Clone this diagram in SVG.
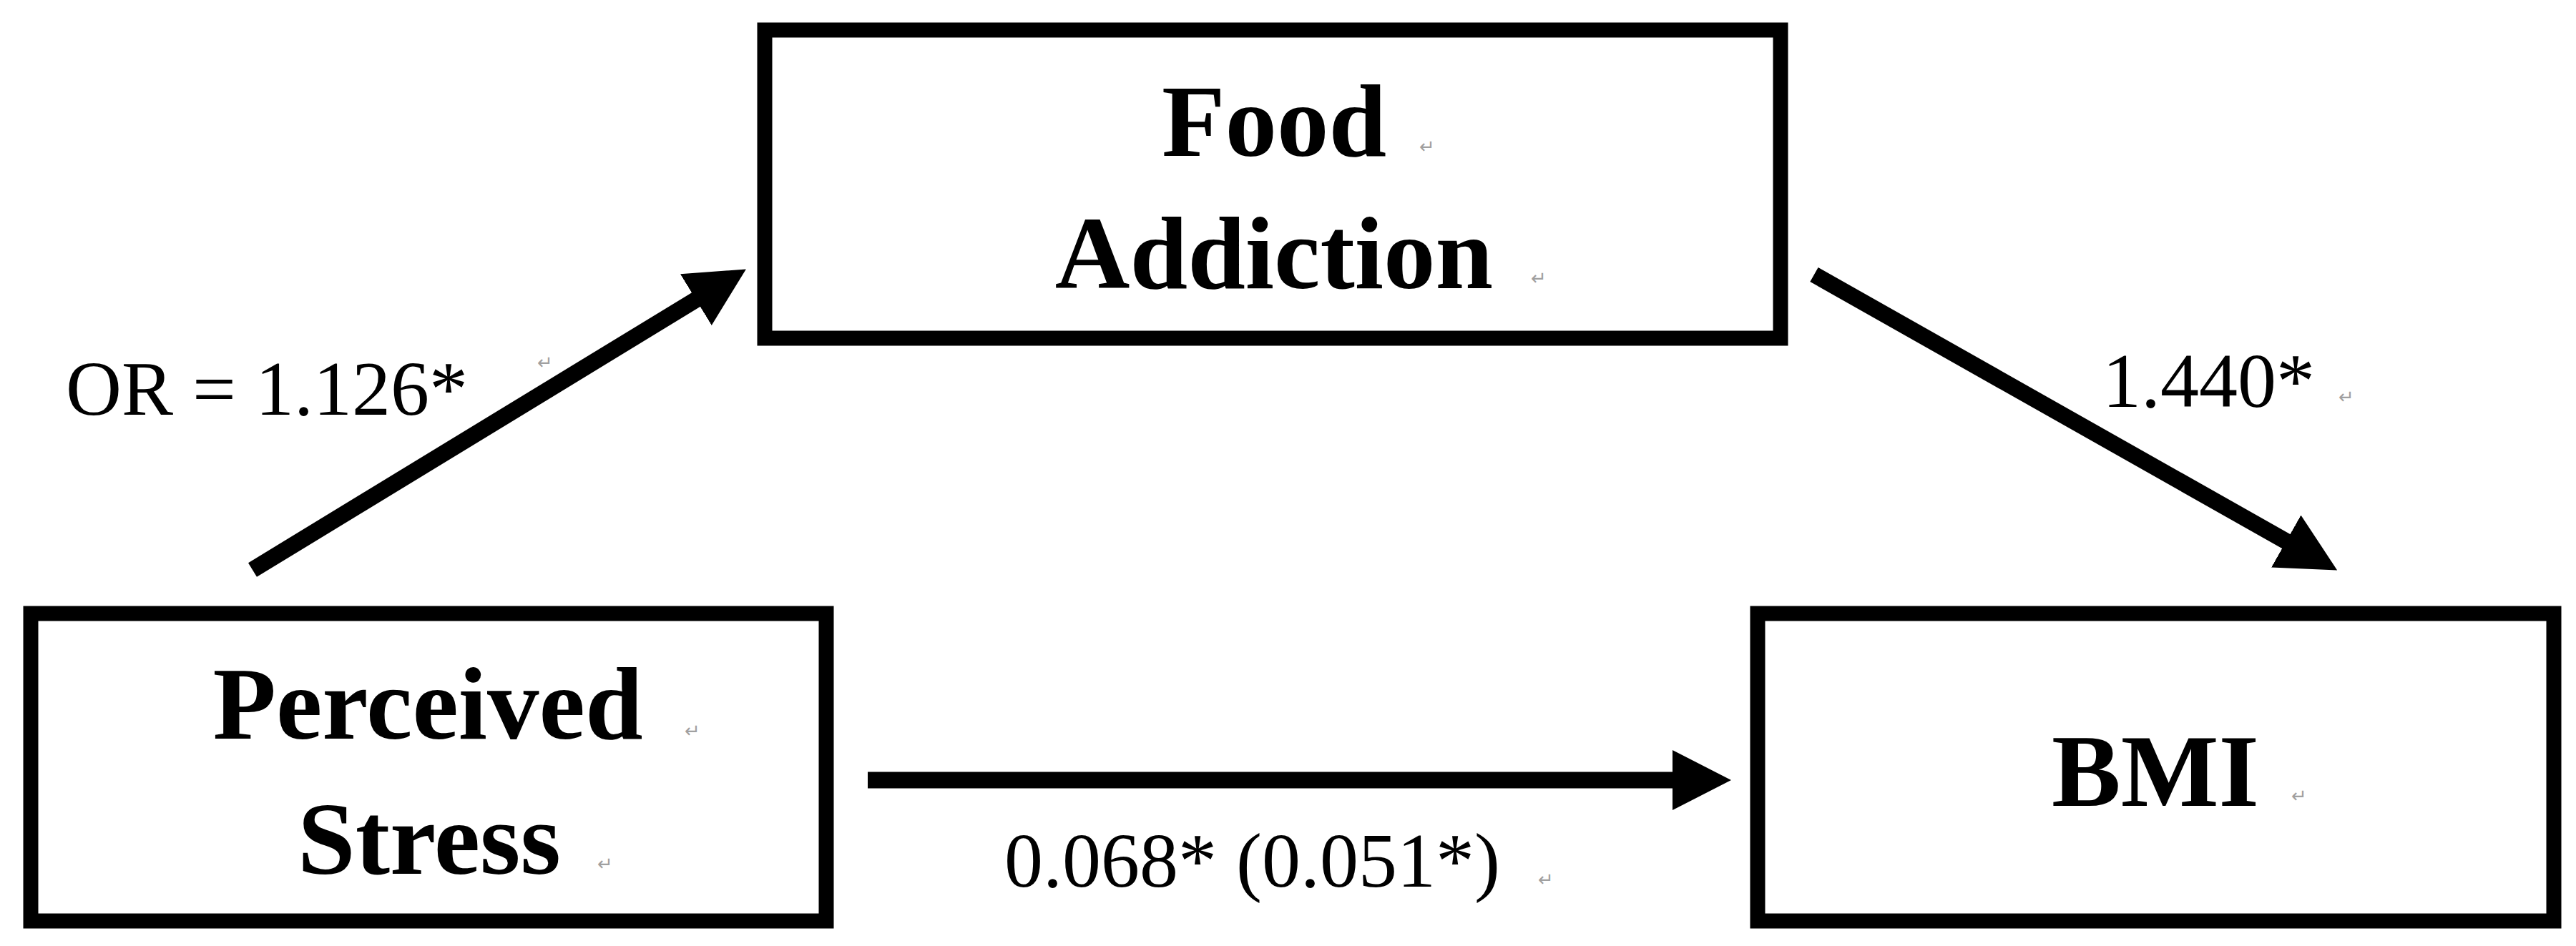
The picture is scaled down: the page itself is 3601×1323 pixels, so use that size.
<svg xmlns="http://www.w3.org/2000/svg" width="3601" height="1323" viewBox="0 0 3601 1323">
  <style>
    .box { fill: #ffffff; stroke: #000000; stroke-width: 21; }
    .node-label { font-family: "Liberation Serif", "Times New Roman", serif; font-weight: bold; font-size: 145px; fill: #000000; text-anchor: middle; }
    .edge-label { font-family: "Liberation Serif", "Times New Roman", serif; font-size: 108px; fill: #000000; }
    .mark { font-family: "DejaVu Sans", sans-serif; font-size: 26px; fill: #a0a0a0; }
    .edge { stroke: #000000; stroke-width: 23; fill: none; marker-end: url(#arrow); }
  </style>
  <defs>
    <marker id="arrow" markerUnits="userSpaceOnUse" viewBox="0 0 82 84" markerWidth="82" markerHeight="84" refX="6" refY="42" orient="auto">
      <path d="M0,0 L82,42 L0,84 z" fill="#000000"/>
    </marker>
  </defs>
  <rect width="3601" height="1323" fill="#ffffff"/>

  <g id="node-food-addiction">
    <rect class="box" x="1069" y="42" width="1420" height="431"/>
    <text class="node-label" x="1781" y="218">Food</text>
    <text class="node-label" x="1781" y="403">Addiction</text>
    <text class="mark" x="1984" y="214">↵</text>
    <text class="mark" x="2140" y="398">↵</text>
  </g>

  <g id="node-perceived-stress">
    <rect class="box" x="43" y="858" width="1112" height="430"/>
    <text class="node-label" x="598" y="1033">Perceived</text>
    <text class="node-label" x="600" y="1222">Stress</text>
    <text class="mark" x="957" y="1031">↵</text>
    <text class="mark" x="835" y="1217">↵</text>
  </g>

  <g id="node-bmi">
    <rect class="box" x="2457" y="858" width="1113" height="430"/>
    <text class="node-label" x="3013" y="1127">BMI</text>
    <text class="mark" x="3203" y="1122">↵</text>
  </g>

  <g id="connectors">
    <line class="edge" x1="353" y1="797" x2="978" y2="416"/>
    <line class="edge" x1="2536" y1="384" x2="3201" y2="760"/>
    <line class="edge" x1="1213" y1="1091" x2="2344" y2="1091"/>
    <text class="edge-label" x="92" y="580">OR = 1.126*</text>
    <text class="mark" x="751" y="516">↵</text>
    <text class="edge-label" x="2939" y="569">1.440*</text>
    <text class="mark" x="3269" y="564">↵</text>
    <text class="edge-label" x="1404" y="1240">0.068* (0.051*)</text>
    <text class="mark" x="2150" y="1239">↵</text>
  </g>
</svg>
